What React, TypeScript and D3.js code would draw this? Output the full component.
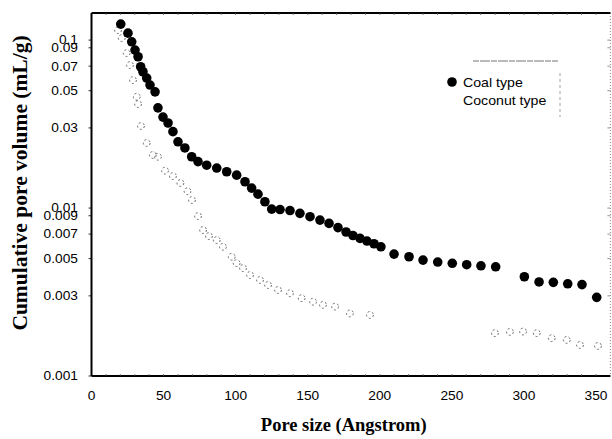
import React from "react";
import * as d3 from "d3";

// ---- data ----
const coalX = [20.3, 25.3, 27.9, 30.2, 32.3, 34.1, 35.7, 38.3, 40.6, 44.1, 46.1, 49.6, 53.1, 56.5, 60.0, 64.8, 69.5, 73.9, 79.9, 86.9, 93.8, 100.7, 106.5, 111.1, 115.5, 120.3, 125.0, 130.8, 137.7, 144.6, 151.6, 158.5, 164.8, 171.0, 176.6, 181.4, 186.3, 191.1, 196.0, 200.8, 209.9, 220.3, 230.0, 240.2, 250.3, 260.3, 270.2, 280.4, 300.3, 310.5, 320.4, 330.4, 340.3, 350.5];
const coalY = [0.1245, 0.110, 0.0977, 0.0872, 0.0796, 0.0694, 0.0648, 0.0594, 0.054, 0.0492, 0.0395, 0.0348, 0.0321, 0.0285, 0.0248, 0.0228, 0.0202, 0.0189, 0.0180, 0.0173, 0.01645, 0.0157, 0.01434, 0.01315, 0.0121, 0.0109, 0.00986, 0.0098, 0.00966, 0.0093, 0.00888, 0.00848, 0.0081, 0.00765, 0.0072, 0.00686, 0.0066, 0.00636, 0.00613, 0.00588, 0.00532, 0.00513, 0.0049, 0.00477, 0.00469, 0.0046, 0.00453, 0.00447, 0.0039, 0.00363, 0.00361, 0.00354, 0.0035, 0.00294];

const coconutX = [18.4, 21.0, 24.4, 26.7, 28.8, 31.4, 32.3, 34.3, 38.3, 42.5, 46.1, 51.0, 56.5, 61.7, 66.6, 69.7, 73.9, 77.4, 81.5, 86.9, 91.2, 97.3, 100.7, 105.1, 110.0, 116.9, 122.5, 129.4, 137.7, 145.8, 153.7, 160.6, 169.0, 179.3, 193.2, 279.9, 290.3, 299.4, 308.9, 319.3, 329.7, 338.9, 351.4];
const coconutY = [0.1147, 0.1028, 0.0837, 0.071, 0.0578, 0.046, 0.0416, 0.0308, 0.0244, 0.0207, 0.0202, 0.0167, 0.0155, 0.0141, 0.0126, 0.01116, 0.00896, 0.0074, 0.00681, 0.00645, 0.00588, 0.00513, 0.0047, 0.00439, 0.00399, 0.00373, 0.00348, 0.00325, 0.00311, 0.00291, 0.00277, 0.00265, 0.00259, 0.00236, 0.00231, 0.0018, 0.00183, 0.00184, 0.0018, 0.00168, 0.00164, 0.00153, 0.00151];

const xTickValues = [0, 50, 100, 150, 200, 250, 300, 350];
const yTickValues = [0.1, 0.09, 0.07, 0.05, 0.03, 0.01, 0.009, 0.007, 0.005, 0.003, 0.001];
const yTickLabels = ["0.1", "0.09", "0.07", "0.05", "0.03", "0.01", "0.009", "0.007", "0.005", "0.003", "0.001"];
const seriesNames = ["Coal type", "Coconut type"];
const xTitle = "Pore size (Angstrom)";
const yTitle = "Cumulative pore volume (mL/g)";

const SANS = "'Liberation Sans', Arial, sans-serif";
const SERIF = "'Liberation Serif', 'Times New Roman', serif";

export default function App() {
  const W = 612;
  const H = 439;
  const left = 91.5;
  const right = 610.4;
  const top = 13;
  const bottom = 376;

  const x = d3.scaleLinear().domain([0, 360]).range([left, right]);
  const y = d3.scaleLog().domain([0.001, 0.145]).range([bottom, top]);

  const coal = coalX.map((v, i) => [v, coalY[i]]);
  const coconut = coconutX.map((v, i) => [v, coconutY[i]]);

  const xMinor = d3.range(10, 360, 10);

  return (
    <svg
      width={W}
      height={H}
      viewBox={`0 0 ${W} ${H}`}
      style={{ position: "absolute", left: 0, top: 0, background: "#fff" }}
    >
      <rect x={0} y={0} width={W} height={H} fill="#fff" />

      {/* right border (faint dotted) with inward ticks */}
      <line x1={right} x2={right} y1={top} y2={bottom} stroke="#888" strokeWidth={1} strokeDasharray="1 2" />
      {yTickValues.map((v, i) => (
        <line key={"ry" + i} x1={right - 3} x2={right} y1={y(v)} y2={y(v)} stroke="#777" strokeWidth={0.8} />
      ))}

      {/* coconut series: faint broken open circles */}
      <g>
        {coconut.map((d, i) => (
          <circle
            key={"cc" + i}
            cx={x(d[0])}
            cy={y(d[1])}
            r={3.4}
            fill="none"
            stroke="#444"
            strokeWidth={0.8}
            strokeDasharray="2 2.4"
          />
        ))}
      </g>

      {/* coal series: filled black circles */}
      <g>
        {coal.map((d, i) => (
          <circle key={"c" + i} cx={x(d[0])} cy={y(d[1])} r={4.8} fill="#000" />
        ))}
      </g>

      {/* frame */}
      <line x1={left} x2={right} y1={top} y2={top} stroke="#000" strokeWidth={2} />
      <line x1={left} x2={left} y1={top} y2={bottom} stroke="#000" strokeWidth={2} />
      <line x1={left} x2={right} y1={bottom} y2={bottom} stroke="#000" strokeWidth={2} />

      {/* x ticks (minor, inward, bottom and top) */}
      {xMinor.map((v) => (
        <g key={"xm" + v}>
          <line x1={x(v)} x2={x(v)} y1={bottom} y2={bottom - 2} stroke="#555" strokeWidth={0.8} />
          <line x1={x(v)} x2={x(v)} y1={top} y2={top + 2} stroke="#555" strokeWidth={0.8} />
        </g>
      ))}
      {xTickValues.map((v) => (
        <g key={"xt" + v}>
          <text
            transform={`translate(${x(v)},${bottom + 24}) scale(1.1,1)`}
            textAnchor="middle"
            fontFamily={SANS}
            fontSize={12.5}
            fill="#000"
          >
            {String(v)}
          </text>
        </g>
      ))}

      {/* y ticks */}
      {yTickValues.map((v, i) => (
        <g key={"yt" + i}>
          <line x1={left - 3} x2={left} y1={y(v)} y2={y(v)} stroke="#000" strokeWidth={0.8} />
          <text
            transform={`translate(78,${y(v)}) scale(1.1,1)`}
            textAnchor="end"
            dy="0.35em"
            fontFamily={SANS}
            fontSize={12.5}
            fill="#000"
          >
            {yTickLabels[i]}
          </text>
        </g>
      ))}

      {/* axis titles */}
      <text
        x={(x(0) + x(350)) / 2}
        y={431}
        textAnchor="middle"
        fontFamily={SERIF}
        fontWeight="bold"
        fontSize={18.5}
        fill="#000"
      >
        {xTitle}
      </text>
      <text
        transform={`translate(27,183) rotate(-90)`}
        textAnchor="middle"
        fontFamily={SERIF}
        fontWeight="bold"
        fontSize={21.5}
        fill="#000"
      >
        {yTitle}
      </text>

      {/* legend */}
      <g>
        <line x1={473} x2={558} y1={61} y2={61} stroke="#777" strokeWidth={1.2} strokeDasharray="6 1 10 1" />
        <line x1={560} x2={560} y1={73} y2={117} stroke="#888" strokeWidth={0.8} strokeDasharray="3 3" />
        <circle cx={452} cy={82} r={4.8} fill="#000" />
        <text
          transform={`translate(463,86.5) scale(1.18,1)`}
          fontFamily={SANS}
          fontSize={12}
          fill="#000"
        >
          {seriesNames[0]}
        </text>
        <text
          transform={`translate(463,104.5) scale(1.18,1)`}
          fontFamily={SANS}
          fontSize={12}
          fill="#000"
        >
          {seriesNames[1]}
        </text>
      </g>
    </svg>
  );
}
